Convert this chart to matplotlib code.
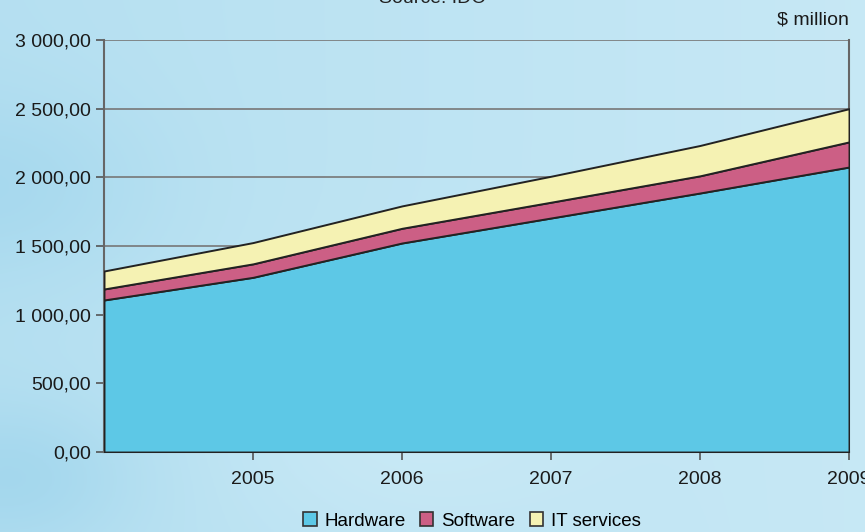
import matplotlib
matplotlib.use("Agg")
import matplotlib.pyplot as plt
import numpy as np
from matplotlib.patches import Patch
from matplotlib.ticker import FuncFormatter

plt.rcParams['font.family'] = ['Liberation Sans Narrow', 'Liberation Sans', 'DejaVu Sans']

# data ($ million)
years = [2004, 2005, 2006, 2007, 2008, 2009]
hardware = [1107, 1272, 1522, 1704, 1886, 2075]
software = [80, 98, 107, 115, 125, 183]
it_services = [131, 155, 163, 189, 221, 242]
labels = ["Hardware", "Software", "IT services"]
colors = ["#5dc8e6", "#cc5f85", "#f5f2b3"]

fig = plt.figure(figsize=(8.65, 5.32), dpi=100)

# background: soft sky gradient
bg = fig.add_axes([0, 0, 1, 1], zorder=-10)
yy, xx = np.mgrid[0:1:200j, 0:1:300j]
v = 0.6 + 0.25 * xx + 0.15 * np.exp(-((xx - 0.45) ** 2 + (yy - 0.8) ** 2) / 0.05)
v -= 0.25 * np.exp(-((xx - 0.02) ** 2 + (yy - 0.9) ** 2) / 0.02)
v -= 0.2 * np.exp(-((xx - 0.0) ** 2 + (yy - 0.35) ** 2) / 0.03)
v = np.clip(v, 0, 1)
c0 = np.array([0.55, 0.80, 0.91])
c1 = np.array([0.82, 0.93, 0.97])
img = c0 + (c1 - c0) * v[..., None]
bg.imshow(img, aspect="auto", extent=[0, 1, 0, 1], origin="upper")
bg.axis("off")

ax = fig.add_axes([104 / 865, 80 / 532, 745 / 865, 412 / 532])
ax.patch.set_alpha(0)

ax.stackplot(years, hardware, software, it_services, colors=colors,
             edgecolor="#222222", linewidth=1.4, zorder=3)

ax.set_xlim(2004, 2009)
ax.set_ylim(0, 3000)
ax.set_yticks(np.arange(0, 3001, 500))
ax.set_xticks(years[1:])
ax.yaxis.set_major_formatter(FuncFormatter(lambda v, p: "{:,.2f}".format(v).replace(",", " ").replace(".", ",")))
ax.grid(axis="y", color="#777777", linewidth=1.2, zorder=1)
ax.tick_params(axis="both", labelsize=14, colors="#555555", labelcolor="#1a1a1a",
               width=1.2, length=6)
ax.tick_params(axis="x", pad=8)
for s in ax.spines.values():
    s.set_color("#666666")
    s.set_linewidth(1.5)
ax.spines["top"].set_visible(False)

fig.text(0.5, 1 - 3 / 532, "Source: IDC", ha="center", va="baseline", fontsize=14, color="#222222")
fig.text(849 / 865, 1 - 20 / 532, "$ million", ha="right", va="center", fontsize=14, color="#1a1a1a")

handles = [Patch(facecolor=c, edgecolor="#333333", linewidth=1.2) for c in colors]
fig.legend(handles, labels, loc="center", bbox_to_anchor=(472 / 865, 1 - 521 / 532), ncol=3,
           frameon=False, fontsize=13.5, handlelength=0.7, handleheight=0.7,
           handletextpad=0.4, columnspacing=0.8)

fig.savefig("out.png", dpi=100)
